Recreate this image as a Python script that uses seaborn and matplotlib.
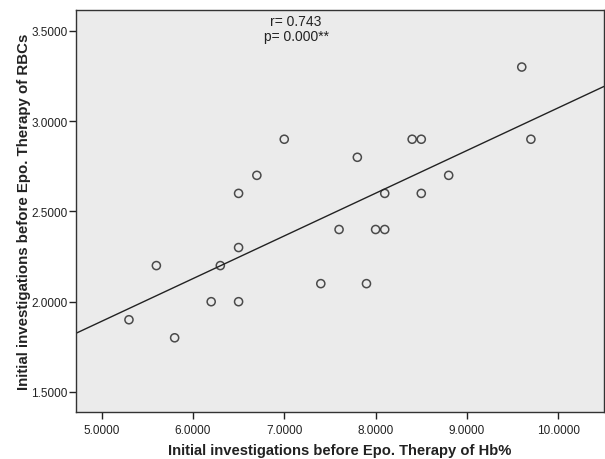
import numpy as np
import pandas as pd
import matplotlib
matplotlib.use("Agg")
import matplotlib.pyplot as plt
import seaborn as sns

# Values
hb = [5.3, 5.6, 5.8, 6.2, 6.3, 6.5, 6.5, 6.5, 6.7, 7.0, 7.4, 7.6,
      7.8, 7.9, 8.0, 8.1, 8.1, 8.4, 8.5, 8.5, 8.8, 9.6, 9.7]
rbc = [1.9, 2.2, 1.8, 2.0, 2.2, 2.0, 2.3, 2.6, 2.7, 2.9, 2.1, 2.4,
       2.8, 2.1, 2.4, 2.4, 2.6, 2.9, 2.9, 2.6, 2.7, 3.3, 2.9]
x_ticks = [5.0, 6.0, 7.0, 8.0, 9.0, 10.0]
y_ticks = [1.5, 2.0, 2.5, 3.0, 3.5]
stats_text = "r= 0.743\np= 0.000**"

df = pd.DataFrame({"hb": hb, "rbc": rbc})

sns.set_style("ticks")
plt.rcParams["font.family"] = ["Liberation Sans", "DejaVu Sans"]

fig = plt.figure(figsize=(6.05, 4.6), dpi=100)
ax = fig.add_axes([0.1256, 0.1022, 0.8727, 0.8739])
ax.set_facecolor("#ebebeb")
ax.set_xlim(4.72, 10.5)
ax.set_ylim(1.389, 3.616)

sns.regplot(data=df, x="hb", y="rbc", ax=ax, ci=None, truncate=False,
            scatter_kws={"s": 34, "facecolors": "none", "edgecolors": "#222222",
                         "linewidths": 1.1},
            line_kws={"color": "#222222", "linewidth": 1.0})

ax.set_xlim(4.72, 10.5)
ax.set_ylim(1.389, 3.616)
ax.set_xticks(x_ticks)
ax.set_yticks(y_ticks)
ax.xaxis.set_major_formatter(matplotlib.ticker.FormatStrFormatter("%.4f"))
ax.yaxis.set_major_formatter(matplotlib.ticker.FormatStrFormatter("%.4f"))
ax.tick_params(direction="out", length=5, width=1, colors="#222222",
               labelsize=8.5, labelcolor="#222222")
ax.tick_params(axis="y", pad=1)

for side in ["top", "right", "left", "bottom"]:
    ax.spines[side].set_visible(True)
    ax.spines[side].set_color("#333333")
    ax.spines[side].set_linewidth(1.0)

ax.set_xlabel("Initial investigations before Epo. Therapy of Hb%",
              fontsize=10.6, fontweight="bold", color="#222222", labelpad=5)
ax.set_ylabel("Initial investigations before Epo. Therapy of RBCs",
              fontsize=10.8, fontweight="bold", color="#222222", labelpad=0.5)

ax.text(0.417, 0.99, stats_text, transform=ax.transAxes, ha="center", va="top",
        fontsize=10, color="#222222", linespacing=1.05)

fig.savefig("out.png", dpi=100)
